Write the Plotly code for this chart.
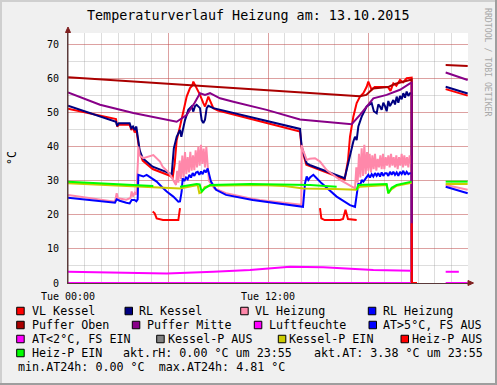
import plotly.graph_objects as go

# ---------------- data (hours since Tue 00:00, °C) ----------------
vl_kessel_h = [0, 2.88, 2.95, 3.05, 3.7, 3.8, 3.9, 4.0, 4.1, 4.18, 4.3, 4.48, 5.08, 6.08, 6.28, 6.4, 6.52, 6.72,
               6.92, 7.12, 7.32, 7.45, 7.52, 7.6, 7.72, 7.92, 8.12, 8.22, 8.42, 8.5, 8.72, 9.0, 13.92, 14.02,
               14.3, 16.6, 16.8, 16.92, 17.12, 17.32, 17.52, 17.72, 17.92, 18.02, 18.12, 18.22, 18.4, 19.2,
               19.35, 19.52, 19.7, 19.92, 20.1, 20.32, 20.62, 20.63, 20.64, 22.66, 23.98]
vl_kessel_v = [51.2, 48.2, 46.0, 46.5, 46.5, 45.0, 45.8, 44.3, 45.0, 42.5, 38.5, 36.0, 33.5, 31.6, 31.0, 35.0, 42.0, 46.0,
               50.9, 54.8, 57.3, 58.0, 59.2, 58.5, 57.3, 55.3, 52.9, 51.9, 54.8, 54.0, 51.4, 50.7, 44.5, 39.5,
               34.8, 30.5, 36.0, 43.0, 48.9, 52.9, 54.8, 55.8, 57.7, 59.2, 58.0, 56.8, 57.6, 57.6,
               56.5, 58.7, 58.0, 59.7, 59.0, 60.2, 60.4, 0, None, 57.0, 55.1]

rl_kessel_h = [0, 2.88, 2.95, 3.05, 3.7, 3.8, 3.9, 4.0, 4.1, 4.18, 4.3, 4.48, 5.08, 6.08, 6.22, 6.3, 6.35, 6.52,
               6.72, 6.8, 6.92, 7.02, 7.22, 7.42, 7.52, 7.62, 7.72, 7.92, 8.02, 8.12, 8.22, 8.32, 8.42, 8.72,
               13.92, 14.02, 14.32, 14.5, 16.6, 16.82, 16.92, 17.12, 17.22, 17.32, 17.42, 17.62, 17.92, 18.22,
               18.35, 18.52, 18.62, 18.72, 18.82, 18.92, 19.02, 19.12, 19.22, 19.32, 19.52, 19.62, 19.72,
               19.82, 19.92, 20.02, 20.12, 20.22, 20.32, 20.42, 20.52, 20.62, 20.63, 20.64, 22.66, 23.98]
rl_kessel_v = [52.1, 47.4, 46.2, 47.0, 47.0, 45.5, 46.0, 45.0, 46.0, 43.5, 39.0, 36.7, 34.2, 32.3, 31.8, 36.7, 39.6, 43.0,
               45.0, 43.0, 46.0, 47.9, 50.9, 51.9, 50.4, 52.0, 52.4, 51.4, 47.9, 47.0, 48.0, 51.4, 52.1, 51.4,
               45.3, 40.1, 35.2, 34.7, 30.8, 35.2, 38.1, 41.6, 43.0, 42.0, 46.0, 48.9, 51.9, 52.9,
               50.5, 49.9, 52.5, 51.9, 50.9, 53.0, 52.0, 50.5, 53.5, 52.0, 53.8, 52.5, 54.8,
               53.0, 55.0, 54.0, 55.8, 54.5, 56.3, 55.0, 55.8, 55.8, 0, None, 57.7, 55.7]

vl_heizung_h = [0, 2.82, 2.92, 3.0, 3.5, 3.75, 3.82, 3.9, 4.0, 4.1, 4.2, 4.22, 4.3, 4.52, 5.12, 5.52, 5.68, 6.08,
                6.48, 6.55, 6.62, 6.7, 6.78, 6.86, 6.94, 7.02, 7.1, 7.18, 7.26, 7.34, 7.42, 7.5, 7.58, 7.66,
                7.74, 7.82, 7.9, 7.98, 8.06, 8.14, 8.22, 8.3, 8.38, 8.46, 8.78, 9.48, 10.88, 11.5, 14.0,
                14.02, 14.1, 14.32, 14.5, 14.82, 15.12, 15.52, 16.32, 17.22, 17.3, 17.38, 17.46, 17.54, 17.62,
                17.7, 17.78, 17.86, 17.94, 18.02, 18.1, 18.18, 18.26, 18.34, 18.42, 18.5, 18.58, 18.66, 18.74,
                18.82, 18.9, 18.98, 19.06, 19.14, 19.22, 19.3, 19.38, 19.46, 19.54, 19.62, 19.7, 19.78, 19.86,
                19.94, 20.02, 20.1, 20.18, 20.26, 20.34, 20.42, 20.5, 20.58, 20.62, 20.63, 20.64, 22.66, 23.98]
vl_heizung_v = [25.9, 23.9, 26.4, 24.9, 24.5, 25.0, 26.9, 25.4, 26.5, 26.0, 36.2, 40.1, 37.5, 36.7, 37.6, 35.7, 34.2, 32.3,
                28.8, 33.0, 29.5, 36.0, 30.5, 37.5, 31.0, 38.5, 32.0, 37.0, 32.5, 38.6, 33.0, 37.5, 33.2, 39.0,
                34.0, 40.0, 34.5, 40.6, 35.0, 39.5, 34.0, 40.0, 34.5, 30.0, 27.8, 26.4, 24.9, 24.4, 23.0,
                40.6, 39.1, 36.2, 36.5, 36.7, 35.7, 33.2, 30.3, 27.8, 34.0, 29.5, 38.0, 31.0, 39.6,
                31.5, 40.6, 32.0, 38.5, 33.0, 38.0, 32.5, 37.5, 33.5, 38.0, 33.0, 36.5, 34.0, 37.5,
                33.5, 38.0, 33.5, 37.0, 34.5, 37.5, 34.0, 38.0, 34.5, 37.0, 34.0, 37.5, 33.5, 37.0,
                34.5, 38.0, 34.0, 37.5, 34.5, 37.0, 34.0, 37.5, 35.0, 36.0, 0, None, 28.8, 27.4]

rl_heizung_h = [0, 2.82, 2.92, 3.1, 3.5, 3.7, 3.82, 4.0, 4.1, 4.18, 4.22, 4.52, 4.72, 5.02, 5.32, 5.62, 5.92, 6.32,
                6.62, 6.72, 6.82, 6.88, 6.98, 7.08, 7.18, 7.28, 7.38, 7.48, 7.58, 7.68, 7.78, 7.88, 7.98, 8.08,
                8.18, 8.28, 8.38, 8.58, 8.88, 9.48, 11.08, 14.1, 14.22, 14.32, 14.42, 14.52, 14.72, 14.92,
                15.22, 16.12, 16.92, 17.22, 17.32, 17.42, 17.52, 17.62, 17.72, 17.92, 18.02, 18.12, 18.22,
                18.32, 18.42, 18.52, 18.62, 18.72, 18.82, 18.92, 19.02, 19.12, 19.22, 19.32, 19.42, 19.52,
                19.62, 19.72, 19.82, 19.92, 20.02, 20.12, 20.22, 20.32, 20.42, 20.52, 20.62, 20.63, 20.64,
                22.66, 23.3, 23.98]
rl_heizung_v = [25.1, 23.6, 24.6, 24.2, 23.6, 23.4, 24.4, 24.4, 24.0, 24.6, 31.8, 31.3, 31.8, 30.8, 29.8, 28.3, 26.9, 25.4,
                23.9, 24.0, 26.9, 30.8, 30.0, 31.0, 30.5, 31.8, 31.0, 32.3, 31.5, 32.5, 32.7, 31.8, 32.8, 32.0,
                33.2, 32.5, 33.7, 29.8, 27.4, 25.9, 24.4, 22.4, 29.3, 31.3, 30.3, 31.0, 31.8, 30.8,
                29.3, 25.4, 22.9, 22.4, 26.4, 29.3, 28.5, 30.3, 29.8, 31.3, 31.8, 31.0, 32.0,
                31.3, 32.3, 31.5, 32.3, 31.3, 32.5, 31.5, 32.3, 32.3, 31.5, 32.7, 31.8, 32.7,
                31.8, 32.5, 31.5, 32.7, 32.0, 33.0, 31.8, 32.7, 32.0, 32.3, 32.3, 0, None,
                28.3, 27.4, 26.4]

puffer_oben_h = [0, 8.0, 13.0, 17.5, 17.9, 18.3, 19.2, 19.6, 20.62, 20.63, 20.64, 22.66, 23.98]
puffer_oben_v = [60.5, 57.9, 56.3, 54.9, 55.3, 57.2, 57.6, 58.5, 59.8, 0, None, 64.1, 63.8]

puffer_mitte_h = [0, 1.92, 3.92, 5.92, 6.52, 7.12, 7.6, 7.92, 8.22, 8.52, 9.12, 9.92, 11.92, 13.92, 16.32,
                  17.02, 17.52, 18.32, 19.12, 19.92, 20.52, 20.62, 20.63, 20.64, 22.66, 23.98]
puffer_mitte_v = [56.0, 52.4, 50.0, 48.0, 47.4, 49.4, 53.0, 55.8, 55.3, 55.8, 54.3, 53.3, 50.9, 48.1, 47.1,
                  46.7, 49.4, 54.3, 55.3, 56.8, 58.7, 58.9, 0, None, 61.9, 59.7]

luftfeuchte_h = [0, 20.62, 20.64, 22.66, 23.98]
luftfeuchte_v = [0, 0, None, 0, 0]

at_h = [0, 2.0, 5.92, 8.72, 10.92, 13.32, 15.32, 18.32, 20.52, 20.62, 20.64, 22.66, 23.45]
at_v = [3.3, 3.1, 2.8, 3.3, 3.8, 4.8, 4.6, 3.8, 3.6, 3.6, None, 3.3, 3.3]

kessel_p_ein_h = [0, 5.92, 6.72, 7.78, 7.88, 8.0, 8.2, 8.52, 11.5, 13.0, 14.12, 16.0, 17.3, 17.5, 19.12,
                  19.22, 19.4, 19.72, 20.62, 20.64, 22.66, 23.98]
kessel_p_ein_v = [29.3, 27.8, 27.8, 28.8, 26.4, 26.6, 28.2, 28.6, 28.8, 28.5, 27.8, 27.6, 27.4, 28.3, 28.8,
                  26.4, 27.5, 28.6, 29.5, None, 29.1, 29.1]

heiz_p_aus_h = [5.08, 5.2, 5.32, 5.7, 6.62, 6.72, 6.8, 15.12, 15.2, 15.4, 16.32, 16.5, 16.65, 16.8, 17.32,
                17.4, 20.62, 20.63, 20.94]
heiz_p_aus_v = [21.0, 20.5, 19.0, 18.5, 18.5, 22.0, None, 22.0, 19.0, 18.5, 18.5, 18.8, 21.5, 18.8, 18.5,
                None, 17.6, 0, 0]

heiz_p_ein_h = [0, 5.12, 5.2, 6.72, 7.72, 7.9, 8.02, 8.2, 8.52, 10.92, 13.0, 14.52, 16.12, 16.2, 17.32, 17.42,
                19.12, 19.22, 19.42, 19.72, 20.62, 20.64, 22.66, 23.98]
heiz_p_ein_v = [29.8, 28.5, None, 28.3, 29.1, 29.0, 26.9, 27.8, 28.8, 29.1, 28.9, 28.8, 28.3, None, 27.4, 28.8,
                29.1, 26.4, 28.0, 28.8, 29.8, None, 29.8, 29.8]

x_tick_vals = [0, 6, 12, 18, 24]
x_tick_text = ["Tue 00:00", "", "Tue 12:00", "", ""]
y_tick_vals = [0, 10, 20, 30, 40, 50, 60, 70]

# ---------------- geometry ----------------
W, H = 497, 385
L, R, T, B = 68, 29, 33, 102
PW, PH = W - L - R, H - T - B
FONT = "DejaVu Sans Mono"


def px(x):
    return (x - L) / PW


def py(y):
    return (H - B - y) / PH


series = [
    ("VL Kessel", vl_kessel_h, vl_kessel_v, "#ff0000"),
    ("RL Kessel", rl_kessel_h, rl_kessel_v, "#000080"),
    ("VL Heizung", vl_heizung_h, vl_heizung_v, "#ff88aa"),
    ("RL Heizung", rl_heizung_h, rl_heizung_v, "#0000ff"),
    ("Puffer Oben", puffer_oben_h, puffer_oben_v, "#aa0000"),
    ("Puffer Mitte", puffer_mitte_h, puffer_mitte_v, "#880088"),
    ("Luftfeuchte", luftfeuchte_h, luftfeuchte_v, "#ff00ff"),
    ("AT<2°C, FS EIN", at_h, at_v, "#ff00ff"),
    ("Kessel-P EIN", kessel_p_ein_h, kessel_p_ein_v, "#cccc00"),
    ("Heiz-P AUS", heiz_p_aus_h, heiz_p_aus_v, "#ff0000"),
    ("Heiz-P EIN", heiz_p_ein_h, heiz_p_ein_v, "#00ff00"),
]

fig = go.Figure()
for name, xs, ys, col in series:
    fig.add_trace(go.Scatter(x=xs, y=ys, mode="lines", name=name, showlegend=False,
                             line=dict(color=col, width=2), connectgaps=False, hoverinfo="skip"))

minor_grid = "rgba(143,143,143,0.3)"
major_grid = "rgba(222,48,48,0.35)"

fig.update_layout(
    width=W, height=H, margin=dict(l=L, r=R, t=T, b=B, pad=0, autoexpand=False),
    paper_bgcolor="#f0f0f0", plot_bgcolor="#ffffff",
    font=dict(family=FONT, color="#000000", size=10),
    showlegend=False,
    xaxis=dict(range=[0, 24], tickvals=x_tick_vals, ticktext=x_tick_text, showgrid=True,
               gridcolor=major_grid, gridwidth=1, zeroline=False, showline=True, linecolor="#5a3a3a",
               linewidth=1, ticks="", tickfont=dict(size=10, family=FONT), ticklabelstandoff=4,
               automargin=False,
               minor=dict(dtick=1, tick0=0, showgrid=True, gridcolor=minor_grid, gridwidth=1)),
    yaxis=dict(range=[0, 73.5], tickvals=y_tick_vals, showgrid=True, gridcolor=major_grid, gridwidth=1,
               zeroline=False, showline=True, linecolor="#5a3a3a", linewidth=1, ticks="",
               tickfont=dict(size=10, family=FONT), ticklabelstandoff=6, automargin=False,
               minor=dict(dtick=5, tick0=0, showgrid=True, gridcolor=minor_grid, gridwidth=1)),
)

shapes = []
# frame (3D look)
shapes.append(dict(type="rect", xref="paper", yref="paper", x0=px(0), x1=px(W), y0=py(0), y1=py(2),
                   fillcolor="#cfcfcf", line=dict(width=0), layer="above"))
shapes.append(dict(type="rect", xref="paper", yref="paper", x0=px(0), x1=px(2), y0=py(0), y1=py(H),
                   fillcolor="#cfcfcf", line=dict(width=0), layer="above"))
shapes.append(dict(type="rect", xref="paper", yref="paper", x0=px(0), x1=px(W), y0=py(H - 2), y1=py(H),
                   fillcolor="#9e9e9e", line=dict(width=0), layer="above"))
shapes.append(dict(type="rect", xref="paper", yref="paper", x0=px(W - 2), x1=px(W), y0=py(0), y1=py(H),
                   fillcolor="#9e9e9e", line=dict(width=0), layer="above"))
# axis arrows
shapes.append(dict(type="line", xref="paper", yref="paper", x0=px(68), x1=px(68), y0=py(283), y1=py(29),
                   line=dict(color="#5a3a3a", width=1)))
shapes.append(dict(type="path", xref="paper", yref="paper",
                   path=f"M {px(65.5)} {py(32.5)} L {px(68)} {py(27)} L {px(70.5)} {py(32.5)} Z",
                   fillcolor="#7f1f1f", line=dict(color="#7f1f1f", width=1)))
shapes.append(dict(type="line", xref="paper", yref="paper", x0=px(468), x1=px(471), y0=py(283), y1=py(283),
                   line=dict(color="#5a3a3a", width=1)))
shapes.append(dict(type="path", xref="paper", yref="paper",
                   path=f"M {px(468)} {py(280.5)} L {px(473.5)} {py(283)} L {px(468)} {py(285.5)} Z",
                   fillcolor="#7f1f1f", line=dict(color="#7f1f1f", width=1)))

annotations = []
annotations.append(dict(text="Temperaturverlauf Heizung am: 13.10.2015", xref="paper", yref="paper",
                        x=px(248), y=py(16), xanchor="center", yanchor="middle", showarrow=False,
                        font=dict(family=FONT, size=13.4, color="#000000")))
annotations.append(dict(text="°C", xref="paper", yref="paper", x=px(12), y=py(158), xanchor="center",
                        yanchor="middle", showarrow=False, textangle=-90,
                        font=dict(family=FONT, size=11.5, color="#000000")))
annotations.append(dict(text="RRDTOOL / TOBI OETIKER", xref="paper", yref="paper", x=px(488), y=py(62),
                        xanchor="center", yanchor="middle", showarrow=False, textangle=90,
                        font=dict(family=FONT, size=8.2, color="#a8a8a8")))

legend_rows = [
    (311, [(16.7, 31, "VL Kessel", "#ff0000"), (125, 138.3, "RL Kessel", "#000080"),
           (240.7, 254, "VL Heizung", "#ff88aa"), (368.3, 381.7, "RL Heizung", "#0000ff")]),
    (325, [(16.7, 31, "Puffer Oben", "#aa0000"), (132.3, 145.7, "Puffer Mitte", "#880088"),
           (254.3, 267.7, "Luftfeuchte", "#ff00ff"), (369, 382, "AT>5°C, FS AUS", "#0000ff")]),
    (339, [(16.7, 31, "AT<2°C, FS EIN", "#ff00ff"), (156.7, 166.7, "Kessel-P AUS", "#808080"),
           (278.3, 288.3, "Kessel-P EIN", "#cccc00"), (401, 410.7, "Heiz-P AUS", "#ff0000")]),
    (353, [(16.7, 31, "Heiz-P EIN", "#00ff00")]),
]
for yrow, items in legend_rows:
    for sx, tx, label, col in items:
        shapes.append(dict(type="rect", xref="paper", yref="paper", x0=px(sx), x1=px(sx + 7.5),
                           y0=py(yrow + 3.75), y1=py(yrow - 3.75), fillcolor=col,
                           line=dict(color="#000000", width=1)))
        annotations.append(dict(text=label, xref="paper", yref="paper", x=px(tx), y=py(yrow),
                                xanchor="left", yanchor="middle", showarrow=False, borderpad=0,
                                font=dict(family=FONT, size=11.7, color="#000000")))

extra_text = [
    (122.3, 353, "akt.rH: 0.00 °C um 23:55"),
    (312.7, 353, "akt.AT: 3.38 °C um 23:55"),
    (16.7, 367, "min.AT24h: 0.00 °C  max.AT24h: 4.81 °C"),
]
for tx, ty, label in extra_text:
    annotations.append(dict(text=label.replace("  ", "&nbsp; "), xref="paper", yref="paper", x=px(tx), y=py(ty),
                            xanchor="left", yanchor="middle", showarrow=False, borderpad=0,
                            font=dict(family=FONT, size=11.7, color="#000000")))

fig.update_layout(shapes=shapes, annotations=annotations)
fig.write_html("out.html", config={"displayModeBar": False, "staticPlot": True},
               post_script="document.body.style.margin='0';document.body.style.padding='0';")
